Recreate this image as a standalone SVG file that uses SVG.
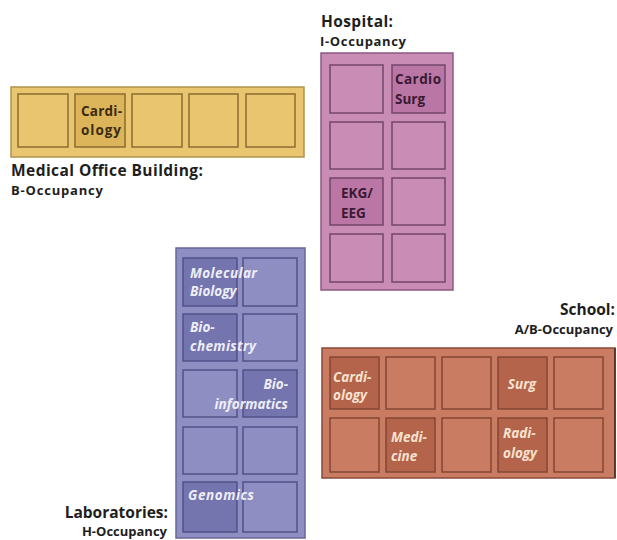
<svg xmlns="http://www.w3.org/2000/svg" width="617" height="540" viewBox="0 0 617 540">
  <style>
    text { font-family: "Open Sans", "Noto Sans", "Liberation Sans", sans-serif; font-weight: 700; }
    .title { font-size: 15.5px; fill: #1e1e1e; }
    .sub { font-size: 13px; fill: #1e1e1e; }
    .mob-wall { fill: #e9c56f; stroke: #b0924c; stroke-width: 1.5; }
    .mob-room { fill: #e9c56f; stroke: #8c6c30; stroke-width: 1.5; }
    .mob-hi { fill: #dcb45a; }
    .mob-txt { font-size: 13.5px; fill: #3a2c10; }
    .hos-wall { fill: #c98db5; stroke: #8c5a80; stroke-width: 1.5; }
    .hos-room { fill: #c98db5; stroke: #74466a; stroke-width: 1.5; }
    .hos-hi { fill: #ba76a4; }
    .hos-txt { font-size: 13.5px; fill: #3a1a34; }
    .lab-wall { fill: #8e8ec2; stroke: #66669a; stroke-width: 1.5; }
    .lab-room { fill: #8e8ec2; stroke: #52528a; stroke-width: 1.5; }
    .lab-hi { fill: #7474ae; }
    .lab-txt { font-size: 13.5px; font-style: italic; fill: #eeeef8; }
    .sch-wall { fill: #c97c62; stroke: #8a4a3a; stroke-width: 1.5; }
    .sch-room { fill: #c97c62; stroke: #844634; stroke-width: 1.5; }
    .sch-hi { fill: #b5644c; }
    .sch-txt { font-size: 13.5px; font-style: italic; fill: #f6e2d0; }
  </style>

  <!-- Medical Office Building -->
  <g id="medical-office-building">
    <rect class="mob-wall" x="11" y="87" width="293" height="70"/>
    <rect class="mob-room" x="18" y="94" width="50" height="53"/>
    <rect class="mob-room mob-hi" x="75" y="94" width="50" height="53"/>
    <rect class="mob-room" x="132" y="94" width="50" height="53"/>
    <rect class="mob-room" x="189" y="94" width="49" height="53"/>
    <rect class="mob-room" x="246" y="94" width="49" height="53"/>
    <text class="mob-txt" x="81" y="116" textLength="41">Cardi-</text>
    <text class="mob-txt" x="81" y="135" textLength="40">ology</text>
    <text class="title" x="11" y="176" textLength="192">Medical Office Building:</text>
    <text class="sub" x="11" y="195" textLength="92">B-Occupancy</text>
  </g>

  <!-- Hospital -->
  <g id="hospital">
    <text class="title" x="321" y="27" textLength="72">Hospital:</text>
    <text class="sub" x="320" y="46" textLength="86">I-Occupancy</text>
    <rect class="hos-wall" x="321" y="53" width="132" height="237"/>
    <rect class="hos-room" x="330" y="65" width="53" height="48"/>
    <rect class="hos-room hos-hi" x="392" y="65" width="53" height="48"/>
    <rect class="hos-room" x="330" y="122" width="53" height="47"/>
    <rect class="hos-room" x="392" y="122" width="53" height="47"/>
    <rect class="hos-room hos-hi" x="330" y="178" width="53" height="47"/>
    <rect class="hos-room" x="392" y="178" width="53" height="47"/>
    <rect class="hos-room" x="330" y="234" width="53" height="48"/>
    <rect class="hos-room" x="392" y="234" width="53" height="48"/>
    <text class="hos-txt" x="395" y="84" textLength="46">Cardio</text>
    <text class="hos-txt" x="395" y="104">Surg</text>
    <text class="hos-txt" x="341" y="198">EKG/</text>
    <text class="hos-txt" x="341" y="218">EEG</text>
  </g>

  <!-- Laboratories -->
  <g id="laboratories">
    <rect class="lab-wall" x="176" y="248" width="129" height="290"/>
    <rect class="lab-room lab-hi" x="183" y="258" width="54" height="48"/>
    <rect class="lab-room" x="243" y="258" width="54" height="48"/>
    <rect class="lab-room lab-hi" x="183" y="314" width="54" height="47"/>
    <rect class="lab-room" x="243" y="314" width="54" height="47"/>
    <rect class="lab-room" x="183" y="370" width="54" height="47"/>
    <rect class="lab-room lab-hi" x="243" y="370" width="54" height="47"/>
    <rect class="lab-room" x="183" y="427" width="54" height="47"/>
    <rect class="lab-room" x="243" y="427" width="54" height="47"/>
    <rect class="lab-room lab-hi" x="183" y="482" width="54" height="50"/>
    <rect class="lab-room" x="243" y="482" width="54" height="50"/>
    <text class="lab-txt" x="190" y="278" textLength="67">Molecular</text>
    <text class="lab-txt" x="190" y="296">Biology</text>
    <text class="lab-txt" x="190" y="332">Bio-</text>
    <text class="lab-txt" x="190" y="351" textLength="66">chemistry</text>
    <text class="lab-txt" x="288" y="389" text-anchor="end">Bio-</text>
    <text class="lab-txt" x="288" y="409" text-anchor="end">informatics</text>
    <text class="lab-txt" x="188" y="500" textLength="66">Genomics</text>
    <text class="title" x="168" y="518" text-anchor="end">Laboratories:</text>
    <text class="sub" x="167" y="536" text-anchor="end">H-Occupancy</text>
  </g>

  <!-- School -->
  <g id="school">
    <text class="title" x="615" y="315" text-anchor="end">School:</text>
    <text class="sub" x="613" y="334" text-anchor="end">A/B-Occupancy</text>
    <rect class="sch-wall" x="322" y="348" width="293" height="130"/>
    <line x1="615" y1="348" x2="615" y2="478" stroke="#4a2a20" stroke-width="1.5"/>
    <rect class="sch-room sch-hi" x="330" y="357" width="49" height="52"/>
    <rect class="sch-room" x="386" y="357" width="49" height="52"/>
    <rect class="sch-room" x="442" y="357" width="49" height="52"/>
    <rect class="sch-room sch-hi" x="498" y="357" width="49" height="52"/>
    <rect class="sch-room" x="554" y="357" width="49" height="52"/>
    <rect class="sch-room" x="330" y="418" width="49" height="54"/>
    <rect class="sch-room sch-hi" x="386" y="418" width="49" height="54"/>
    <rect class="sch-room" x="442" y="418" width="49" height="54"/>
    <rect class="sch-room sch-hi" x="498" y="418" width="49" height="54"/>
    <rect class="sch-room" x="554" y="418" width="49" height="54"/>
    <text class="sch-txt" x="333" y="382">Cardi-</text>
    <text class="sch-txt" x="333" y="400">ology</text>
    <text class="sch-txt" x="522" y="389" text-anchor="middle">Surg</text>
    <text class="sch-txt" x="391" y="442">Medi-</text>
    <text class="sch-txt" x="391" y="461">cine</text>
    <text class="sch-txt" x="503" y="438">Radi-</text>
    <text class="sch-txt" x="503" y="458">ology</text>
  </g>
</svg>
